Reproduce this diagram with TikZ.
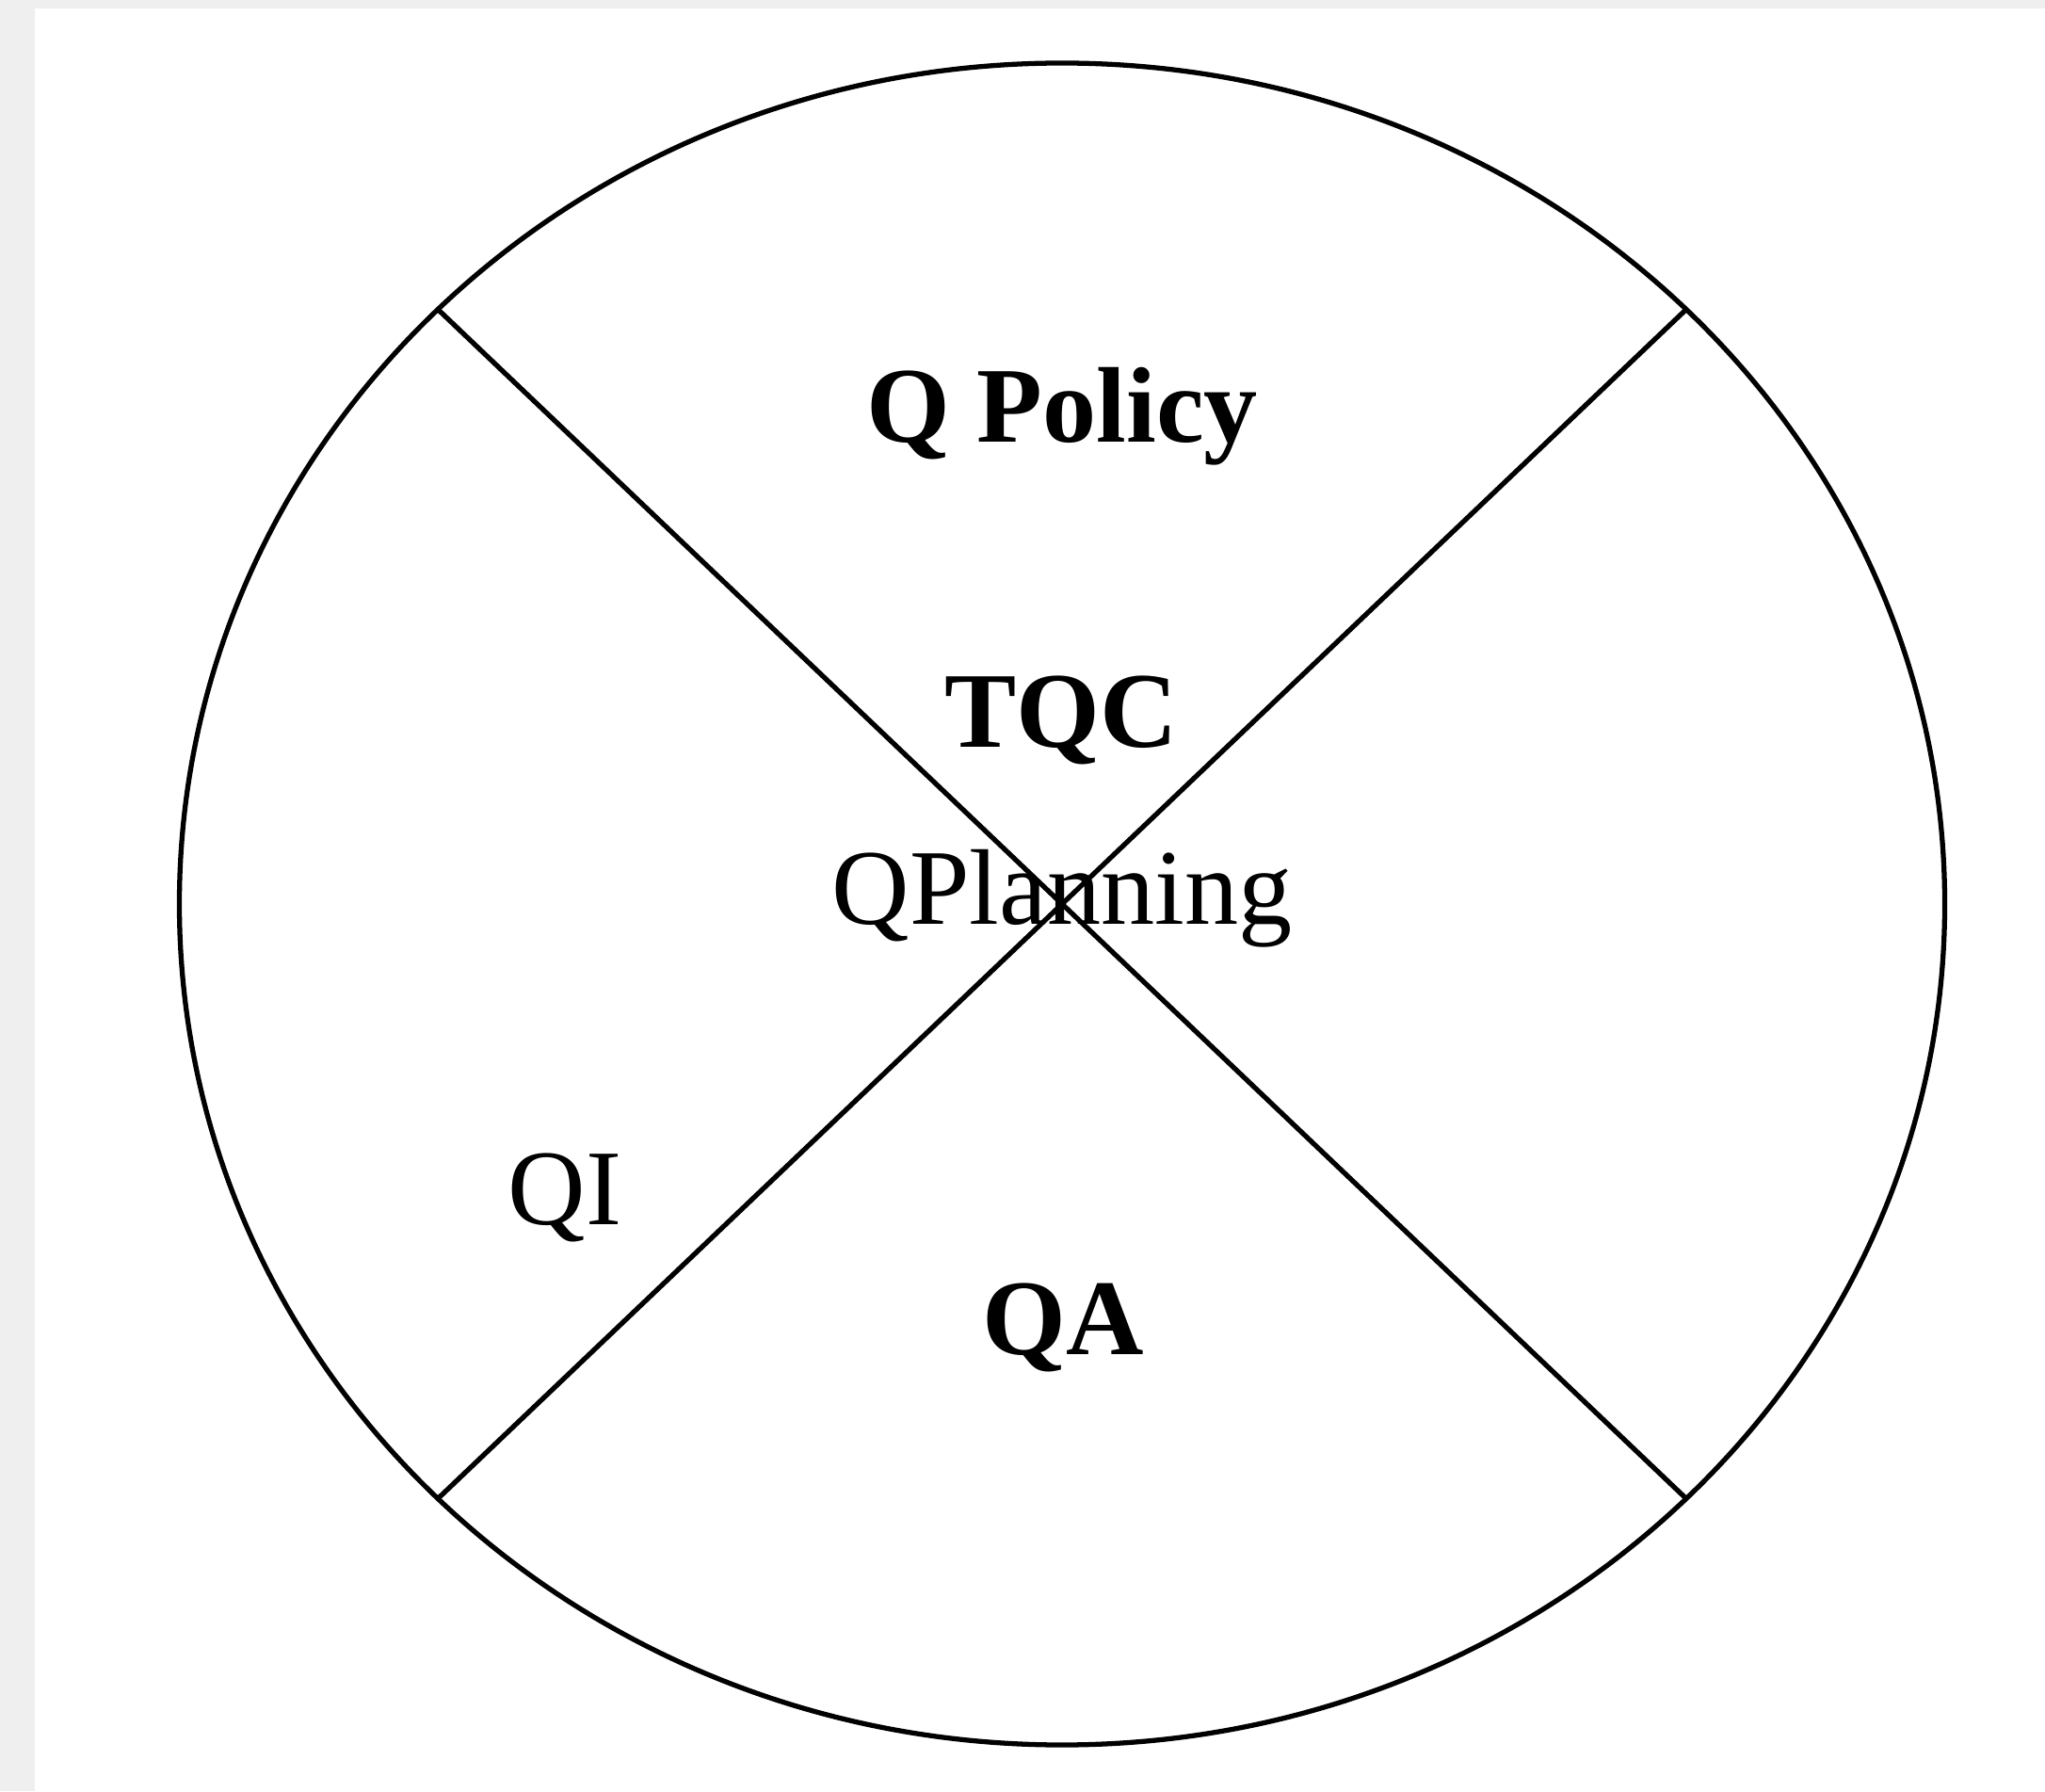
\documentclass[tikz,border=0pt]{standalone}
\usepackage{fontspec}
\setmainfont{Liberation Serif}
\usetikzlibrary{shapes.geometric}
\definecolor{framegray}{RGB}{239,239,239}
\tikzset{
  ring/.style={draw, ellipse, line width=1.5pt, inner sep=0pt, outer sep=0pt,
    minimum width=18.75cm, minimum height=17.86cm},
  divider/.style={line width=1.5pt},
  quad/.style={anchor=base, inner sep=0pt, font=\fontsize{32.5}{39}\selectfont},
  quadbold/.style={quad, font=\fontsize{32.5}{39}\selectfont\bfseries},
}

\begin{document}
\begin{tikzpicture}
  % page with grey strips on the left and top
  \fill[framegray] (0,0) rectangle (21.72,19.02);
  \fill[white] (0.37,0) rectangle (21.72,18.93);
  \useasboundingbox (0,0) rectangle (21.72,19.02);

  \node[ring] (tqcring) at (11.28,9.42) {};
  \draw[divider] (tqcring.north west) -- (tqcring.south east);
  \draw[divider] (tqcring.north east) -- (tqcring.south west);

  \node[quadbold] (policy) at (11.28,14.32) {Q Policy};
  \node[quadbold] (tqc) at (11.27,11.08) {TQC};
  \node[quad] (planning) at (11.28,9.20) {QPlanning};
  \node[quad] (qi) at (6.00,6.02) {QI};
  \node[quadbold] (qa) at (11.29,4.64) {QA};
\end{tikzpicture}
\end{document}
